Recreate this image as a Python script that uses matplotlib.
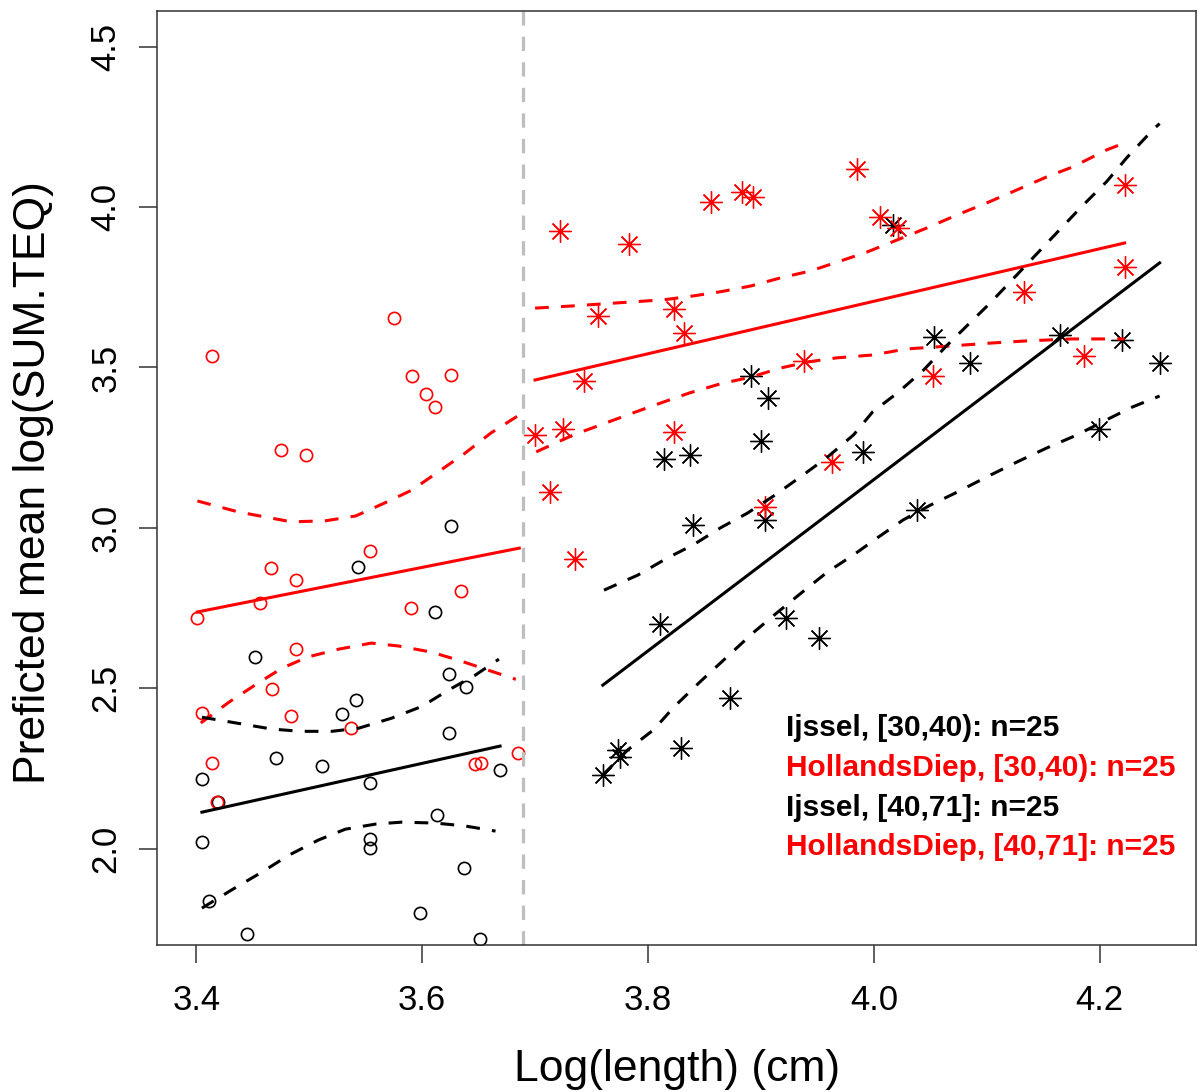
import matplotlib
matplotlib.use("Agg")
import matplotlib.pyplot as plt

plt.rcParams['font.family'] = ['Liberation Sans', 'DejaVu Sans']

# split point between the two length classes: log(40)
cut_x = 3.689

# Ijssel, [30,40)  (black circles)
ij_small_x = [3.543, 3.626, 3.611, 3.452, 3.624, 3.639, 3.541, 3.529, 3.624, 3.405,
              3.471, 3.511, 3.554, 3.419, 3.669, 3.613, 3.405, 3.554, 3.554, 3.637,
              3.411, 3.598, 3.445, 3.651]
ij_small_y = [2.878, 3.006, 2.738, 2.598, 2.545, 2.504, 2.464, 2.420, 2.361, 2.217,
              2.283, 2.258, 2.205, 2.146, 2.245, 2.105, 2.021, 2.030, 2.002, 1.940,
              1.837, 1.800, 1.734, 1.719]

# HollandsDiep, [30,40)  (red circles)
hd_small_x = [3.401, 3.414, 3.405, 3.414, 3.418, 3.475, 3.497, 3.456, 3.466, 3.488,
              3.467, 3.488, 3.484, 3.537, 3.554, 3.575, 3.591, 3.603, 3.611, 3.590,
              3.626, 3.634, 3.647, 3.652, 3.685]
hd_small_y = [2.719, 3.536, 2.423, 2.267, 2.146, 3.243, 3.227, 2.766, 2.875, 2.838,
              2.498, 2.623, 2.414, 2.376, 2.928, 3.654, 3.474, 3.417, 3.377, 2.750,
              3.477, 2.803, 2.264, 2.267, 2.298]

# Ijssel, [40,71]  (black stars)
ij_large_x = [3.760, 3.773, 3.775, 3.811, 3.814, 3.829, 3.837, 3.840, 3.873, 3.891,
              3.900, 3.904, 3.906, 3.922, 3.951, 3.990, 4.017, 4.038, 4.053, 4.085,
              4.165, 4.199, 4.220, 4.253]
ij_large_y = [2.230, 2.308, 2.286, 2.700, 3.215, 2.314, 3.227, 3.009, 2.470, 3.474,
              3.271, 3.025, 3.405, 2.719, 2.657, 3.237, 3.944, 3.056, 3.595, 3.514,
              3.601, 3.308, 3.586, 3.514]

# HollandsDiep, [40,71]  (red stars)
hd_large_x = [3.700, 3.713, 3.722, 3.725, 3.735, 3.743, 3.756, 3.783, 3.823, 3.823,
              3.832, 3.856, 3.883, 3.893, 3.904, 3.938, 3.963, 3.985, 4.005, 4.021,
              4.052, 4.133, 4.186, 4.222, 4.222]
hd_large_y = [3.290, 3.112, 3.925, 3.308, 2.903, 3.458, 3.661, 3.885, 3.682, 3.299,
              3.608, 4.016, 4.047, 4.031, 3.065, 3.520, 3.205, 4.119, 3.969, 3.935,
              3.474, 3.735, 3.536, 4.069, 3.813]

# fitted means (straight lines, end points)
fit_hd_small_x = [3.401, 3.686]
fit_hd_small_y = [2.738, 2.937]
fit_ij_small_x = [3.405, 3.669]
fit_ij_small_y = [2.114, 2.320]
fit_hd_large_x = [3.700, 4.222]
fit_hd_large_y = [3.461, 3.888]
fit_ij_large_x = [3.760, 4.253]
fit_ij_large_y = [2.510, 3.826]

# confidence bands
hd_small_up_x = [3.401, 3.437, 3.484, 3.514, 3.541, 3.567, 3.591, 3.614, 3.638, 3.661, 3.686]
hd_small_up_y = [3.084, 3.050, 3.019, 3.022, 3.037, 3.078, 3.118, 3.174, 3.233, 3.296, 3.352]
hd_small_lo_x = [3.404, 3.429, 3.455, 3.476, 3.499, 3.526, 3.555, 3.579, 3.608, 3.632, 3.659, 3.683]
hd_small_lo_y = [2.392, 2.457, 2.517, 2.563, 2.598, 2.622, 2.641, 2.632, 2.613, 2.588, 2.556, 2.528]

ij_small_up_x = [3.405, 3.437, 3.467, 3.493, 3.520, 3.544, 3.573, 3.600, 3.623, 3.647, 3.668]
ij_small_up_y = [2.410, 2.391, 2.373, 2.366, 2.366, 2.376, 2.407, 2.444, 2.494, 2.541, 2.591]
ij_small_lo_x = [3.405, 3.431, 3.458, 3.482, 3.508, 3.532, 3.559, 3.582, 3.612, 3.638, 3.665]
ij_small_lo_y = [1.815, 1.871, 1.927, 1.980, 2.027, 2.061, 2.077, 2.083, 2.080, 2.071, 2.055]

hd_large_up_x = [3.700, 3.734, 3.784, 3.814, 3.840, 3.864, 3.891, 3.917, 3.944, 3.968,
                 3.994, 4.021, 4.047, 4.074, 4.100, 4.127, 4.153, 4.176, 4.206, 4.222]
hd_large_up_y = [3.685, 3.692, 3.704, 3.711, 3.723, 3.736, 3.754, 3.779, 3.801, 3.829,
                 3.860, 3.898, 3.935, 3.976, 4.013, 4.054, 4.094, 4.125, 4.178, 4.200]
hd_large_lo_x = [3.701, 3.734, 3.758, 3.784, 3.811, 3.837, 3.864, 3.891, 3.917, 3.941,
                 3.967, 3.999, 4.029, 4.068, 4.103, 4.136, 4.176, 4.222]
hd_large_lo_y = [3.237, 3.290, 3.321, 3.355, 3.389, 3.421, 3.449, 3.470, 3.498, 3.517,
                 3.530, 3.539, 3.558, 3.567, 3.576, 3.583, 3.589, 3.589]

ij_large_up_x = [3.761, 3.791, 3.817, 3.840, 3.864, 3.888, 3.911, 3.935, 3.959, 3.982,
                 3.999, 4.021, 4.044, 4.065, 4.103, 4.124, 4.145, 4.162, 4.183, 4.206,
                 4.224, 4.247, 4.253]
ij_large_up_y = [2.806, 2.853, 2.906, 2.947, 3.000, 3.046, 3.099, 3.159, 3.221, 3.290,
                 3.362, 3.421, 3.492, 3.570, 3.701, 3.779, 3.857, 3.920, 3.998, 4.079,
                 4.154, 4.241, 4.260]
ij_large_lo_x = [3.760, 3.782, 3.805, 3.823, 3.846, 3.870, 3.893, 3.914, 3.937, 3.959,
                 3.982, 4.003, 4.026, 4.050, 4.074, 4.100, 4.127, 4.153, 4.180, 4.206,
                 4.229, 4.253]
ij_large_lo_y = [2.230, 2.308, 2.371, 2.442, 2.520, 2.598, 2.673, 2.735, 2.801, 2.863,
                 2.916, 2.969, 3.025, 3.071, 3.112, 3.159, 3.206, 3.249, 3.290, 3.337,
                 3.377, 3.411]

legend_labels = ["Ijssel, [30,40): n=25", "HollandsDiep, [30,40): n=25",
                 "Ijssel, [40,71]: n=25", "HollandsDiep, [40,71]: n=25"]
legend_colors = ["black", "red", "black", "red"]

x_ticks = [3.4, 3.6, 3.8, 4.0, 4.2]
y_ticks = [2.0, 2.5, 3.0, 3.5, 4.0, 4.5]

fig = plt.figure(figsize=(11.98, 10.92), dpi=100)
ax = fig.add_axes([0.1313, 0.1346, 0.8673, 0.8556])

circ = dict(marker='o', linestyle='none', markersize=8.8, markerfacecolor='none', markeredgewidth=1.2)
star = dict(marker=(8, 2, 0), linestyle='none', markersize=16, markeredgewidth=0.95)
ax.plot(ij_small_x, ij_small_y, color='black', **circ)
ax.plot(hd_small_x, hd_small_y, color='red', **circ)
ax.plot(ij_large_x, ij_large_y, color='black', **star)
ax.plot(hd_large_x, hd_large_y, color='red', **star)

lw = 2.2
dash = (4.5, 4.0)
for col, fx, fy, ux, uy, lx, ly in [
        ('red', fit_hd_small_x, fit_hd_small_y, hd_small_up_x, hd_small_up_y, hd_small_lo_x, hd_small_lo_y),
        ('black', fit_ij_small_x, fit_ij_small_y, ij_small_up_x, ij_small_up_y, ij_small_lo_x, ij_small_lo_y),
        ('red', fit_hd_large_x, fit_hd_large_y, hd_large_up_x, hd_large_up_y, hd_large_lo_x, hd_large_lo_y),
        ('black', fit_ij_large_x, fit_ij_large_y, ij_large_up_x, ij_large_up_y, ij_large_lo_x, ij_large_lo_y)]:
    ax.plot(fx, fy, color=col, linewidth=lw)
    ax.plot(ux, uy, color=col, linewidth=lw, dashes=dash)
    ax.plot(lx, ly, color=col, linewidth=lw, dashes=dash)

ax.axvline(cut_x, color='#bebebe', linewidth=2.3, dashes=(4.5, 3.5))

ax.set_xlim(3.3655, 4.2855)
ax.set_ylim(1.700, 4.612)
ax.set_xticks(x_ticks)
ax.set_xticklabels(["3.4", "3.6", "3.8", "4.0", "4.2"])
ax.set_yticks(y_ticks)
ax.set_yticklabels(["2.0", "2.5", "3.0", "3.5", "4.0", "4.5"], rotation=90, va='center')
ax.tick_params(axis='both', length=13, width=1.1, color='#333333', labelsize=25)
ax.tick_params(axis='x', pad=15)
ax.tick_params(axis='y', pad=12)
for sp in ax.spines.values():
    sp.set_color('#333333')
    sp.set_linewidth(1.1)

ax.set_xlabel("Log(length) (cm)", fontsize=32)
ax.set_ylabel("Preficted mean log(SUM.TEQ)", fontsize=32)
ax.xaxis.set_label_coords(0.5, -0.111)
ax.yaxis.set_label_coords(-0.099, 0.495)

legend_y = [0.2323, 0.1894, 0.1466, 0.1049]
for lab, col, yy in zip(legend_labels, legend_colors, legend_y):
    ax.text(0.6055, yy, lab, color=col, fontsize=21.5, fontweight='bold',
            transform=ax.transAxes, ha='left', va='center')

fig.savefig("out.png", dpi=100)
